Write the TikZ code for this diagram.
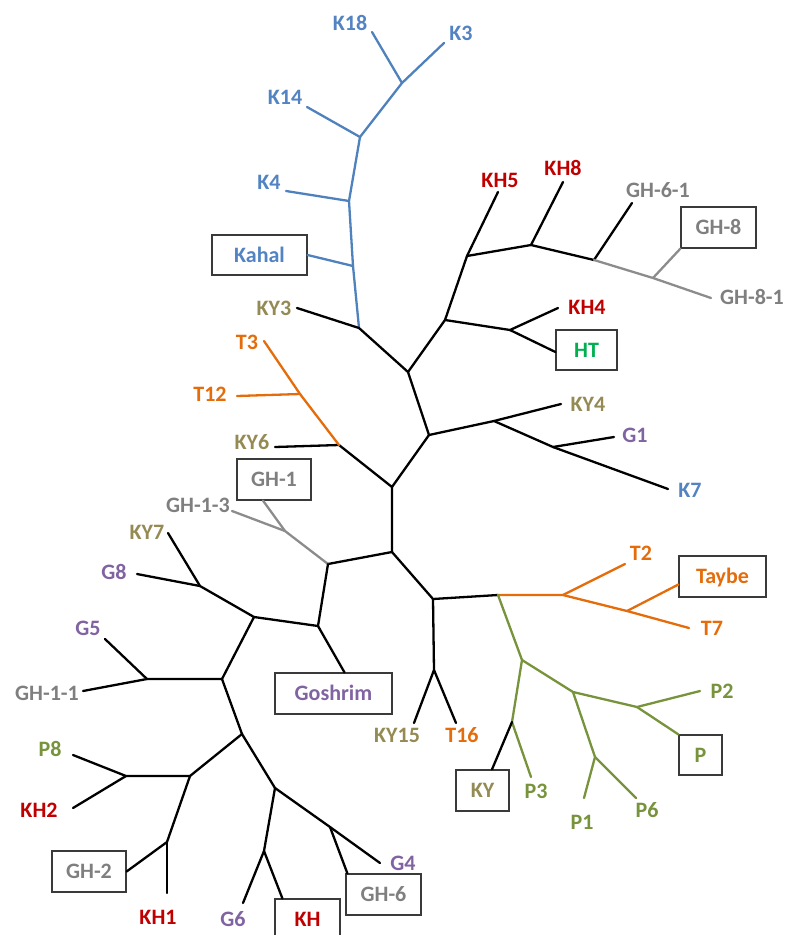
\documentclass[tikz,border=0pt]{standalone}
\usepackage{fontspec}
\setmainfont{Carlito}
\definecolor{cblue}{HTML}{4F81BD}
\definecolor{cbluet}{HTML}{5283C2}
\definecolor{cred}{HTML}{C00000}
\definecolor{cky}{HTML}{948A54}
\definecolor{cpur}{HTML}{8064A2}
\definecolor{cgray}{HTML}{7F7F7F}
\definecolor{cgrayl}{HTML}{8C8C8C}
\definecolor{corange}{HTML}{E46C0A}
\definecolor{cgreen}{HTML}{77933C}
\definecolor{cht}{HTML}{00B050}
\definecolor{cbox}{HTML}{3A3A3A}
\tikzset{
  lab/.style={inner sep=0pt, text height=14pt, text depth=0pt, font=\fontsize{22}{25}\selectfont\bfseries},
  boxn/.style={lab, draw=cbox, line width=1.2pt, minimum width=#1, minimum height=41pt},
  br/.style={line width=2.3pt, line cap=round, line join=round},
  bk/.style={br, black},
  bl/.style={br, cblue},
  gy/.style={br, cgrayl},
  og/.style={br, corange},
  gn/.style={br, cgreen}
}
\begin{document}
\begin{tikzpicture}[x=1pt,y=-1pt]
\useasboundingbox (0,0) rectangle (789,935);
\clip (0,0) rectangle (789,935);
% junctions
\coordinate (bK318) at (402,83);
\coordinate (bK14) at (360,137);
\coordinate (bK4) at (349,201);
\coordinate (bKahal) at (353,266);
\coordinate (bKY3) at (359,328);
\coordinate (n1) at (408,372);
\coordinate (n2) at (445,320);
\coordinate (n3) at (467,256);
\coordinate (n4) at (531,245);
\coordinate (n5) at (594,260);
\coordinate (n6) at (653,278);
\coordinate (n7) at (510,330);
\coordinate (n8) at (429,435);
\coordinate (n9) at (494,421);
\coordinate (n10) at (553,447);
\coordinate (n11) at (392,487);
\coordinate (n12) at (339,445);
\coordinate (n13) at (300,394);
\coordinate (n14) at (392,552);
\coordinate (n15) at (328,564);
\coordinate (n16) at (285,531);
\coordinate (n17) at (318,626);
\coordinate (n18) at (254,617);
\coordinate (n19) at (200,586);
\coordinate (n20) at (222,679);
\coordinate (n21) at (147,679);
\coordinate (n22) at (242,734);
\coordinate (n23) at (190,776);
\coordinate (n24) at (126,776);
\coordinate (n25) at (167,842);
\coordinate (n26) at (275,788);
\coordinate (n27) at (264,851);
\coordinate (n28) at (330,827);
\coordinate (n29) at (433,599);
\coordinate (n30) at (434,670);
\coordinate (n31) at (498,595);
\coordinate (n32) at (563,595);
\coordinate (n33) at (627,611);
\coordinate (n34) at (522,660);
\coordinate (n35) at (512,722);
\coordinate (n36) at (573,692);
\coordinate (n37) at (637,707);
\coordinate (n38) at (595,757);
% leaf tips
\coordinate (tK18) at (372,32);
\coordinate (tK3) at (444,43);
\coordinate (tK14) at (307,107);
\coordinate (tK4) at (286,191);
\coordinate (tKY3) at (297,308);
\coordinate (tKH5) at (498,192);
\coordinate (tKH8) at (563,182);
\coordinate (tGH61) at (632,203);
\coordinate (tGH81) at (711,298);
\coordinate (tKH4) at (558,308);
\coordinate (tKY4) at (561,404);
\coordinate (tG1) at (614,437);
\coordinate (tK7) at (668,489);
\coordinate (tT3) at (264,341);
\coordinate (tT12) at (237,396);
\coordinate (tKY6) at (275,447);
\coordinate (tGH13) at (232,511);
\coordinate (tKY7) at (168,533);
\coordinate (tG8) at (137,574);
\coordinate (tG5) at (105,639);
\coordinate (tGH11) at (83,691);
\coordinate (tP8) at (73,755);
\coordinate (tKH2) at (73,808);
\coordinate (tKH1) at (167,893);
\coordinate (tG6) at (243,903);
\coordinate (tG4) at (380,863);
\coordinate (tKY15) at (414,723);
\coordinate (tT16) at (456,723);
\coordinate (tT2) at (625,564);
\coordinate (tT7) at (689,628);
\coordinate (tP3) at (531,777);
\coordinate (tP2) at (700,691);
\coordinate (tP1) at (584,798);
\coordinate (tP6) at (636,798);
% labels
\node[lab, text=cbluet] (lK18) at (350,23) {K18};
\node[lab, text=cbluet] (lK3) at (461,33) {K3};
\node[lab, text=cbluet] (lK14) at (285,97) {K14};
\node[lab, text=cbluet] (lK4) at (269,182) {K4};
\node[lab, text=cky] (lKY3) at (274,308) {KY3};
\node[lab, text=cred] (lKH5) at (500,180) {KH5};
\node[lab, text=cred] (lKH8) at (563,168) {KH8};
\node[lab, text=cgray] (lGH61) at (658,190) {GH-6-1};
\node[lab, text=cgray] (lGH81) at (752,297) {GH-8-1};
\node[lab, text=cred] (lKH4) at (587,307) {KH4};
\node[lab, text=cky] (lKY4) at (588,404) {KY4};
\node[lab, text=cpur] (lG1) at (635,435) {G1};
\node[lab, text=cbluet] (lK7) at (690,490) {K7};
\node[lab, text=corange] (lT3) at (247,342) {T3};
\node[lab, text=corange] (lT12) at (210,394) {T12};
\node[lab, text=cky] (lKY6) at (252,442) {KY6};
\node[lab, text=cgray] (lGH13) at (198,505) {GH-1-3};
\node[lab, text=cky] (lKY7) at (147,532) {KY7};
\node[lab, text=cpur] (lG8) at (114,572) {G8};
\node[lab, text=cpur] (lG5) at (88,628) {G5};
\node[lab, text=cgray] (lGH11) at (47,693) {GH-1-1};
\node[lab, text=cgreen] (lP8) at (50,749) {P8};
\node[lab, text=cred] (lKH2) at (39,810) {KH2};
\node[lab, text=cred] (lKH1) at (158,917) {KH1};
\node[lab, text=cpur] (lG6) at (233,919) {G6};
\node[lab, text=cpur] (lG4) at (403,863) {G4};
\node[lab, text=cky] (lKY15) at (397,735) {KY15};
\node[lab, text=corange] (lT16) at (462,735) {T16};
\node[lab, text=corange] (lT2) at (641,553) {T2};
\node[lab, text=corange] (lT7) at (712,628) {T7};
\node[lab, text=cgreen] (lP3) at (536,791) {P3};
\node[lab, text=cgreen] (lP2) at (722,691) {P2};
\node[lab, text=cgreen] (lP1) at (582,822) {P1};
\node[lab, text=cgreen] (lP6) at (647,810) {P6};
% boxes
\node[boxn=95pt, text=cbluet, minimum height=40pt] (kahal) at (259.5,255) {Kahal};
\node[boxn=75pt, text=cgray] (gh8) at (718.5,227.5) {GH-8};
\node[boxn=61pt, text=cht, minimum height=40pt] (ht) at (586.5,350) {HT};
\node[boxn=74pt, text=cgray] (gh1) at (274,479.5) {GH-1};
\node[boxn=87pt, text=corange] (taybe) at (722.5,576.5) {Taybe};
\node[boxn=117pt, text=cpur] (goshrim) at (333.5,693.5) {Goshrim};
\node[boxn=53pt, text=cky] (ky) at (482.5,790.5) {KY};
\node[boxn=43pt, text=cgreen, minimum height=40pt] (p) at (700.5,755) {P};
\node[boxn=74pt, text=cgray] (gh2) at (89,871.5) {GH-2};
\node[boxn=75pt, text=cgray] (gh6) at (383.5,894.5) {GH-6};
\node[boxn=65pt, text=cred] (kh) at (307.5,919.5) {KH};
% blue clade
\draw[bl] (tK18) -- (bK318);
\draw[bl] (tK3) -- (bK318) -- (bK14);
\draw[bl] (tK14) -- (bK14) -- (bK4);
\draw[bl] (tK4) -- (bK4) -- (bKahal);
\draw[bl] (kahal.east) -- (bKahal) -- (bKY3);
% upper black
\draw[bk] (tKY3) -- (bKY3) -- (n1) -- (n2) -- (n3) -- (tKH5);
\draw[bk] (n3) -- (n4) -- (tKH8);
\draw[bk] (n4) -- (n5) -- (tGH61);
\draw[gy] (n5) -- (n6) -- (tGH81);
\draw[gy] (n6) -- (gh8.south west);
\draw[bk] (n2) -- (n7) -- (tKH4);
\draw[bk] (n7) -- ([yshift=-2pt]ht.west);
\draw[bk] (n1) -- (n8) -- (n9) -- (tKY4);
\draw[bk] (n9) -- (n10) -- (tG1);
\draw[bk] (n10) -- (tK7);
\draw[bk] (n8) -- (n11) -- (n12) -- (tKY6);
\draw[og] (n12) -- (n13) -- (tT3);
\draw[og] (n13) -- (tT12);
\draw[bk] (n11) -- (n14) -- (n15);
\draw[gy] (n15) -- (n16) -- (tGH13);
\draw[gy] (n16) -- ([xshift=-11pt]gh1.south);
% lower left black
\draw[bk] (n15) -- (n17) -- ([xshift=11pt]goshrim.north);
\draw[bk] (n17) -- (n18) -- (n19) -- (tKY7);
\draw[bk] (n19) -- (tG8);
\draw[bk] (n18) -- (n20) -- (n21) -- (tG5);
\draw[bk] (n21) -- (tGH11);
\draw[bk] (n20) -- (n22) -- (n23) -- (n24) -- (tP8);
\draw[bk] (n24) -- (tKH2);
\draw[bk] (n23) -- (n25) -- (gh2.east);
\draw[bk] (n25) -- (tKH1);
\draw[bk] (n22) -- (n26) -- (n27) -- (tG6);
\draw[bk] (n27) -- ([xshift=8pt]kh.north west);
\draw[bk] (n26) -- (n28) -- (tG4);
\draw[bk] (n28) -- ([xshift=2pt]gh6.north west);
% lower right
\draw[bk] (n14) -- (n29) -- (n31);
\draw[bk] (n29) -- (n30) -- (tKY15);
\draw[bk] (n30) -- (tT16);
\draw[og] (n31) -- (n32) -- (tT2);
\draw[og] (n32) -- (n33) -- (tT7);
\draw[og] (n33) -- ([yshift=-8pt]taybe.west);
\draw[gn] (n31) -- (n34) -- (n35) -- (tP3);
\draw[bk] (n35) -- ([xshift=9.5pt]ky.north);
\draw[gn] (n34) -- (n36) -- (n37) -- (tP2);
\draw[gn] (n37) -- (p.north west);
\draw[gn] (n36) -- (n38) -- (tP1);
\draw[gn] (n38) -- (tP6);
\end{tikzpicture}
\end{document}
